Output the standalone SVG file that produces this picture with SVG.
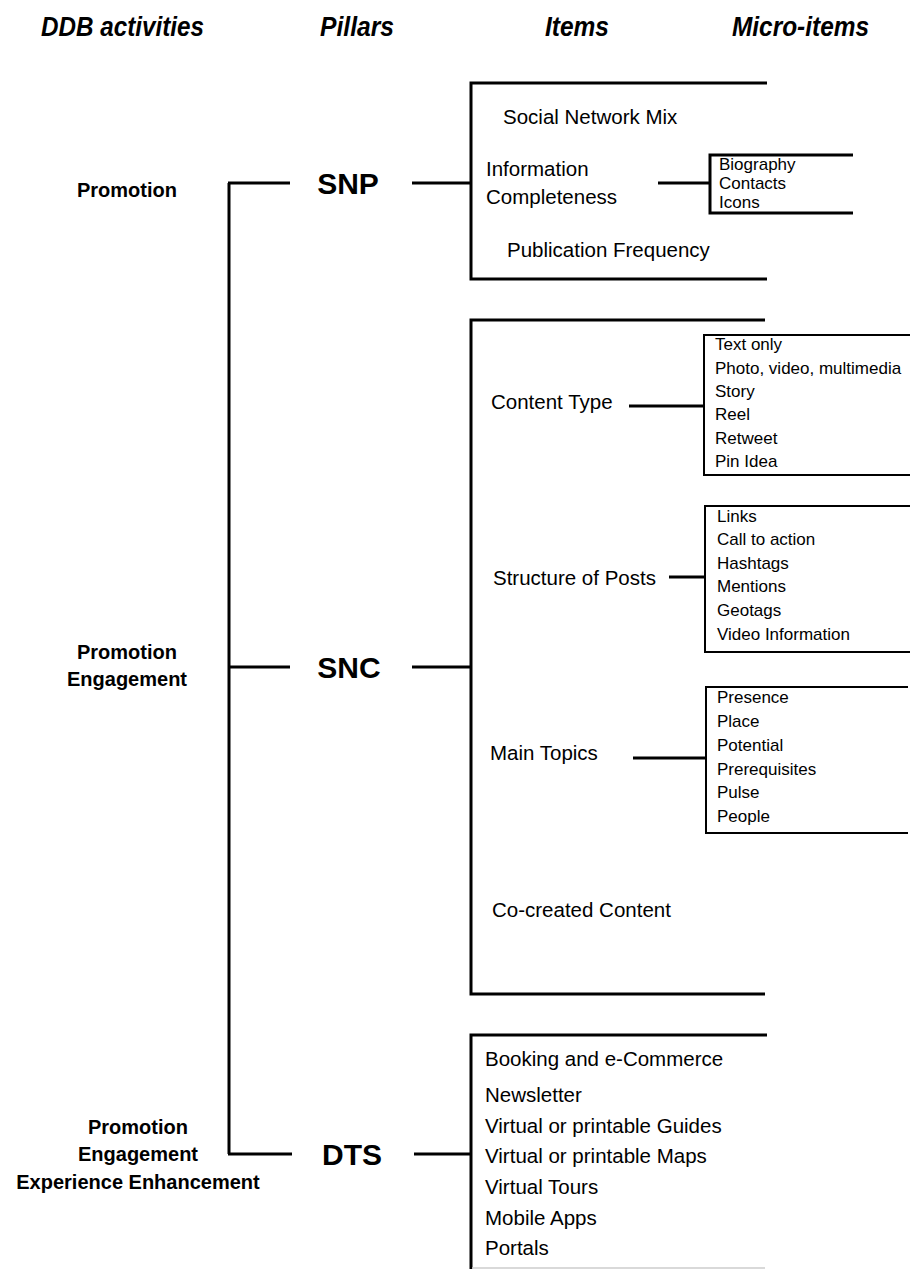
<svg xmlns="http://www.w3.org/2000/svg" width="910" height="1269" viewBox="0 0 910 1269">
<style>
  .hdr { font-family: "Liberation Sans", Arial, sans-serif; font-weight: bold; font-style: italic; font-size: 27px; fill: #000; }
  .act { font-family: "Liberation Sans", Arial, sans-serif; font-weight: bold; font-size: 20px; fill: #000; text-anchor: middle; }
  .pil { font-family: "Liberation Sans", Arial, sans-serif; font-weight: bold; font-size: 30px; fill: #000; text-anchor: middle; }
  .itm { font-family: "Liberation Sans", Arial, sans-serif; font-size: 20.5px; fill: #000; }
  .mic { font-family: "Liberation Sans", Arial, sans-serif; font-size: 17px; fill: #000; }
  .ln { stroke: #000; stroke-width: 3; fill: none; }
  .bx { stroke: #000; stroke-width: 2; fill: none; }
</style>
<rect width="910" height="1269" fill="#fff"/>

<g id="headers">
  <text class="hdr" x="41" y="36" textLength="163" lengthAdjust="spacingAndGlyphs">DDB activities</text>
  <text class="hdr" x="320" y="36" textLength="74" lengthAdjust="spacingAndGlyphs">Pillars</text>
  <text class="hdr" x="545" y="36" textLength="64" lengthAdjust="spacingAndGlyphs">Items</text>
  <text class="hdr" x="732" y="36" textLength="137" lengthAdjust="spacingAndGlyphs">Micro-items</text>
</g>

<g id="connectors">
  <path class="ln" d="M229,183 V1154"/>
  <path class="ln" d="M228,183 H290"/>
  <path class="ln" d="M228,667 H290"/>
  <path class="ln" d="M228,1154 H292"/>
  <path class="ln" d="M412,183 H471"/>
  <path class="ln" d="M412,667 H471"/>
  <path class="ln" d="M414,1154 H471"/>
  <path class="ln" d="M658,183 H710"/>
  <path class="ln" d="M629,406 H703"/>
  <path class="ln" d="M669,577 H705"/>
  <path class="ln" d="M633,758 H706"/>
</g>

<g id="act-snp">
  <text class="act" x="127" y="197">Promotion</text>
</g>
<g id="act-snc">
  <text class="act" x="127" y="659">Promotion</text>
  <text class="act" x="127" y="686">Engagement</text>
</g>
<g id="act-dts">
  <text class="act" x="138" y="1134">Promotion</text>
  <text class="act" x="138" y="1161">Engagement</text>
  <text class="act" x="138" y="1189">Experience Enhancement</text>
</g>

<g id="pillar-snp"><text class="pil" x="348" y="194">SNP</text></g>
<g id="pillar-snc"><text class="pil" x="349" y="678">SNC</text></g>
<g id="pillar-dts"><text class="pil" x="352" y="1165">DTS</text></g>

<g id="items-snp">
  <path class="ln" d="M767,83 H471 V279 H767"/>
  <text class="itm" x="503" y="124">Social Network Mix</text>
  <text class="itm" x="486" y="176">Information</text>
  <text class="itm" x="486" y="204">Completeness</text>
  <text class="itm" x="507" y="257">Publication Frequency</text>
</g>

<g id="micro-info">
  <path class="ln" d="M853,155 H710 V213 H853"/>
  <text class="mic" x="719" y="170">Biography</text>
  <text class="mic" x="719" y="189">Contacts</text>
  <text class="mic" x="719" y="208">Icons</text>
</g>

<g id="items-snc">
  <path class="ln" d="M765,320 H471 V994 H765"/>
  <text class="itm" x="491" y="409">Content Type</text>
  <text class="itm" x="493" y="585">Structure of Posts</text>
  <text class="itm" x="490" y="760">Main Topics</text>
  <text class="itm" x="492" y="917">Co-created Content</text>
</g>

<g id="micro-content">
  <path class="bx" d="M910,335 H704 V475 H910"/>
  <text class="mic" x="715" y="350">Text only</text>
  <text class="mic" x="715" y="374">Photo, video, multimedia</text>
  <text class="mic" x="715" y="397">Story</text>
  <text class="mic" x="715" y="420">Reel</text>
  <text class="mic" x="715" y="444">Retweet</text>
  <text class="mic" x="715" y="467">Pin Idea</text>
</g>

<g id="micro-structure">
  <path class="bx" d="M910,506 H705 V652 H910"/>
  <text class="mic" x="717" y="522">Links</text>
  <text class="mic" x="717" y="545">Call to action</text>
  <text class="mic" x="717" y="569">Hashtags</text>
  <text class="mic" x="717" y="592">Mentions</text>
  <text class="mic" x="717" y="616">Geotags</text>
  <text class="mic" x="717" y="640">Video Information</text>
</g>

<g id="micro-topics">
  <path class="bx" d="M908,687 H706 V833 H908"/>
  <text class="mic" x="717" y="703">Presence</text>
  <text class="mic" x="717" y="727">Place</text>
  <text class="mic" x="717" y="751">Potential</text>
  <text class="mic" x="717" y="775">Prerequisites</text>
  <text class="mic" x="717" y="798">Pulse</text>
  <text class="mic" x="717" y="822">People</text>
</g>

<g id="items-dts">
  <path class="ln" d="M767,1035 H471 V1269"/>
  <path d="M472,1268 H765" stroke="#ccc" stroke-width="1.5" fill="none"/>
  <text class="itm" x="485" y="1066">Booking and e-Commerce</text>
  <text class="itm" x="485" y="1102">Newsletter</text>
  <text class="itm" x="485" y="1133">Virtual or printable Guides</text>
  <text class="itm" x="485" y="1163">Virtual or printable Maps</text>
  <text class="itm" x="485" y="1194">Virtual Tours</text>
  <text class="itm" x="485" y="1225">Mobile Apps</text>
  <text class="itm" x="485" y="1255">Portals</text>
</g>
</svg>
